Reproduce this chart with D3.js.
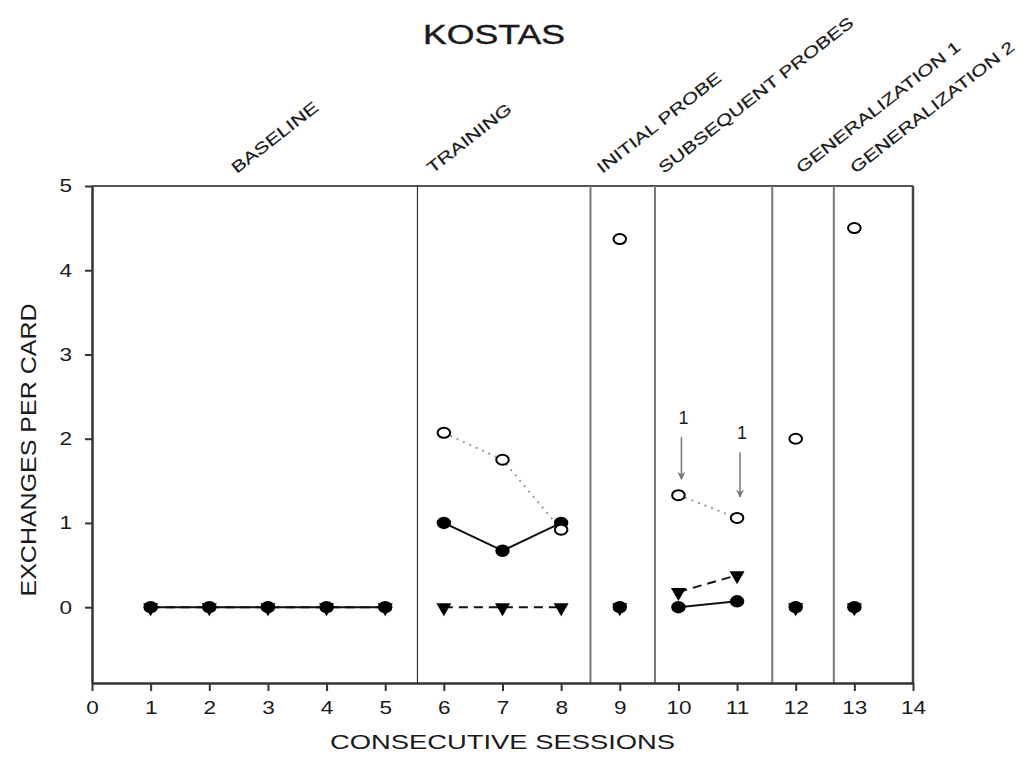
<!DOCTYPE html>
<html>
<head>
<meta charset="utf-8">
<title>Kostas</title>
<style>
  body { margin: 0; background: #fff; }
  text { font-family: "Liberation Sans", Arial, sans-serif; fill: #1a1a1a; }
</style>
<script src="https://d3js.org/d3.v7.min.js"></script>
</head>
<body>
<script>

// data
const sessions     = [1, 2, 3, 4, 5, 6, 7, 8, 9, 10, 11, 12, 13];
const phaseOf      = [0, 0, 0, 0, 0, 1, 1, 1, 2, 3, 3, 4, 5];
const filledCircle = [0, 0, 0, 0, 0, 1.0, 0.67, 1.0, 0, 0, 0.07, 0, 0];
const openCircle   = [null, null, null, null, null, 2.07, 1.75, 0.92, 4.37, 1.33, 1.06, 2.0, 4.5];
const triangle     = [0, 0, 0, 0, 0, 0, 0, 0, 0, 0.18, 0.38, 0, 0];

const phaseNames   = ["BASELINE", "TRAINING", "INITIAL PROBE", "SUBSEQUENT PROBES", "GENERALIZATION 1", "GENERALIZATION 2"];
const phaseLabelAt = [2.47, 5.8, 8.7, 9.75, 12.1, 13.02];
const phaseBreaks  = [5.55, 8.5, 9.6, 11.6, 12.65];

const xTicks = d3.range(0, 15);
const yTicks = [0, 1, 2, 3, 4, 5];

// "1" arrows in subsequent probes
const arrowSessions = [10, 11];
const arrowFrom     = [2.02, 1.84];
const arrowTo       = [1.52, 1.31];
const arrowText     = ["1", "1"];

const W = 1025, H = 765;
const plotLeft = 92, plotRight = 913, plotTop = 186, plotBottom = 683;

const svg = d3.select("body").append("svg")
  .attr("width", W).attr("height", H);

svg.append("defs").append("marker")
  .attr("id", "arrowhead")
  .attr("viewBox", "0 0 10 10")
  .attr("refX", 9).attr("refY", 5)
  .attr("markerWidth", 8).attr("markerHeight", 12)
  .attr("markerUnits", "userSpaceOnUse")
  .attr("orient", "auto")
  .append("path")
  .attr("d", "M0,0 L10,5 L0,10 L3,5 Z")
  .attr("fill", "#777");

let x = d3.scaleLinear().domain([0, 14]).range([plotLeft, plotRight]);
let y = d3.scaleLinear().domain([-0.9, 5]).range([plotBottom, plotTop]);

// title
svg.append("text")
  .attr("x", 494).attr("y", 44)
  .attr("text-anchor", "middle")
  .attr("font-size", 27)
  .attr("stroke", "#1a1a1a").attr("stroke-width", 0.4)
  .attr("textLength", 142).attr("lengthAdjust", "spacingAndGlyphs")
  .text("KOSTAS");

// frame: top and right borders
svg.append("line")
  .attr("x1", plotLeft).attr("x2", plotRight).attr("y1", plotTop).attr("y2", plotTop)
  .attr("stroke", "#555").attr("stroke-width", 2);
svg.append("line")
  .attr("x1", plotRight).attr("x2", plotRight).attr("y1", plotTop).attr("y2", plotBottom)
  .attr("stroke", "#444").attr("stroke-width", 2.5);

// phase change lines
svg.selectAll("line.phase").data(phaseBreaks).enter().append("line")
  .attr("class", "phase")
  .attr("x1", d => x(d)).attr("x2", d => x(d))
  .attr("y1", plotTop).attr("y2", plotBottom)
  .attr("stroke", (d, i) => i == 0 ? "#333" : "#777")
  .attr("stroke-width", (d, i) => i == 0 ? 1.2 : 2);

// phase labels
svg.selectAll("text.phaseLabel").data(phaseNames).enter().append("text")
  .attr("class", "phaseLabel")
  .attr("font-size", 16)
  .attr("stroke", "#1a1a1a").attr("stroke-width", 0.2)
  .attr("transform", (d, i) => "translate(" + x(phaseLabelAt[i]) + ",174) rotate(-38) scale(1.34,1)")
  .text(d => d);

// axes
let xAxis = d3.axisBottom(x).tickValues(xTicks).tickSize(8).tickSizeOuter(0).tickPadding(10);
let yAxis = d3.axisLeft(y).tickValues(yTicks).tickFormat(d3.format("d"))
  .tickSize(7).tickSizeOuter(0).tickPadding(13);

let gx = svg.append("g").attr("transform", "translate(0," + plotBottom + ")").call(xAxis);
let gy = svg.append("g").attr("transform", "translate(" + plotLeft + ",0)").call(yAxis);

for (let g of [gx, gy]) {
  g.select(".domain").attr("stroke", "#333").attr("stroke-width", 2.5);
  g.selectAll(".tick line").attr("stroke", "#333").attr("stroke-width", 2);
  g.selectAll(".tick text")
    .attr("font-family", "'Liberation Sans', Arial, sans-serif")
    .attr("font-size", 18.5).attr("fill", "#222")
    .each(function() {
      // the source glyphs are a little wider than Arial
      d3.select(this)
        .attr("textLength", this.getComputedTextLength() * 1.22)
        .attr("lengthAdjust", "spacingAndGlyphs");
    });
}

// axis titles
svg.append("text")
  .attr("x", (plotLeft + plotRight) / 2).attr("y", 749)
  .attr("text-anchor", "middle")
  .attr("font-size", 21)
  .attr("textLength", 345).attr("lengthAdjust", "spacingAndGlyphs")
  .text("CONSECUTIVE SESSIONS");

svg.append("text")
  .attr("transform", "translate(36,450) rotate(-90)")
  .attr("text-anchor", "middle")
  .attr("font-size", 22)
  .attr("textLength", 293).attr("lengthAdjust", "spacingAndGlyphs")
  .text("EXCHANGES PER CARD");

// build point lists
function points(vals) {
  return sessions.map((s, i) => ({session: s, phase: phaseOf[i], value: vals[i]}))
    .filter(d => d.value != null);
}

let filledPts = points(filledCircle);
let openPts = points(openCircle);
let triPts = points(triangle);

let line = d3.line().x(d => x(d.session)).y(d => y(d.value));

function drawLines(pts, style) {
  let groups = Array.from(d3.group(pts, d => d.phase).values()).filter(g => g.length > 1);
  svg.append("g").selectAll("path").data(groups).enter().append("path")
    .attr("d", line)
    .attr("fill", "none")
    .attr("stroke", style.color)
    .attr("stroke-width", style.width)
    .attr("stroke-dasharray", style.dash);
}

drawLines(triPts, {color: "#111", width: 2, dash: "9,6"});
drawLines(filledPts, {color: "#111", width: 2, dash: null});
drawLines(openPts, {color: "#999", width: 2, dash: "2,5"});

// markers
svg.append("g").selectAll("path").data(triPts).enter().append("path")
  .attr("d", "M-7.5,-5.5 L7.5,-5.5 L0,7.5 Z")
  .attr("transform", d => "translate(" + x(d.session) + "," + (y(d.value) + 1.5) + ")")
  .attr("fill", "#000");

svg.append("g").selectAll("ellipse").data(filledPts).enter().append("ellipse")
  .attr("cx", d => x(d.session)).attr("cy", d => y(d.value))
  .attr("rx", 7.2).attr("ry", 6.2)
  .attr("fill", "#000");

svg.append("g").selectAll("ellipse").data(openPts).enter().append("ellipse")
  .attr("cx", d => x(d.session)).attr("cy", d => y(d.value))
  .attr("rx", 6.3).attr("ry", 5)
  .attr("fill", "#fff")
  .attr("stroke", "#000").attr("stroke-width", 2);

// arrows with "1"
arrowSessions.forEach((s, i) => {
  svg.append("line")
    .attr("x1", x(s) + 3).attr("x2", x(s) + 3)
    .attr("y1", y(arrowFrom[i])).attr("y2", y(arrowTo[i]))
    .attr("stroke", "#777").attr("stroke-width", 1.5)
    .attr("marker-end", "url(#arrowhead)");
  svg.append("text")
    .attr("x", x(s) + 5).attr("y", y(arrowFrom[i]) - 13)
    .attr("text-anchor", "middle")
    .attr("font-size", 18)
    .text(arrowText[i]);
});

</script>
</body>
</html>
